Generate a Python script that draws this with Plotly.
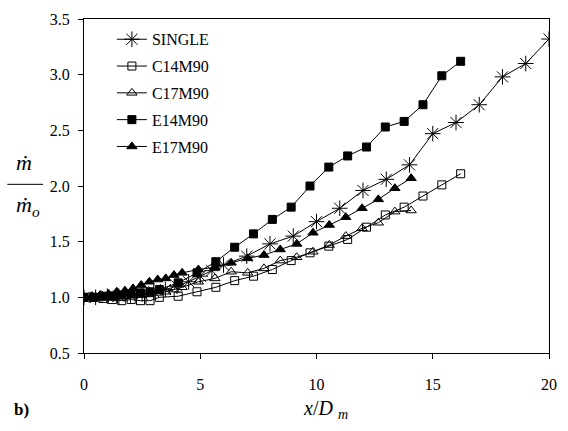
import plotly.graph_objects as go

# ---- data ----
single_x = [0, 0.5, 1, 1.5, 2, 2.5, 3, 3.5, 4, 4.5, 5, 5.5, 6, 7, 8, 9, 10, 11, 12, 13, 14, 15, 16, 17, 18, 19, 20]
single_y = [1.0, 1.0, 1.01, 1.01, 1.02, 1.03, 1.05, 1.07, 1.10, 1.14, 1.19, 1.24, 1.29, 1.37, 1.48, 1.55, 1.68, 1.80, 1.96, 2.06, 2.19, 2.47, 2.57, 2.73, 2.98, 3.10, 3.32]

c14_x = [0, 0.41, 0.81, 1.22, 1.62, 2.03, 2.43, 2.84, 3.24, 4.05, 4.86, 5.67, 6.48, 7.29, 8.1, 8.91, 9.72, 10.53, 11.34, 12.15, 12.96, 13.77, 14.58, 15.39, 16.2]
c14_y = [1.0, 1.0, 0.99, 0.98, 0.97, 0.98, 0.97, 0.97, 1.0, 1.01, 1.05, 1.09, 1.15, 1.19, 1.25, 1.33, 1.40, 1.46, 1.52, 1.63, 1.74, 1.81, 1.91, 2.01, 2.11]

c17_x = [0, 0.35, 0.70, 1.06, 1.41, 1.76, 2.11, 2.46, 2.81, 3.17, 3.52, 3.87, 4.22, 4.92, 5.63, 6.33, 7.04, 7.74, 8.44, 9.15, 9.85, 10.55, 11.26, 11.96, 12.66, 13.37, 14.07]
c17_y = [1.0, 1.0, 1.0, 1.0, 1.01, 1.01, 1.02, 1.02, 1.03, 1.04, 1.05, 1.07, 1.09, 1.14, 1.17, 1.23, 1.22, 1.26, 1.33, 1.36, 1.41, 1.47, 1.55, 1.62, 1.67, 1.77, 1.78]

e14_x = c14_x
e14_y = [1.0, 1.0, 1.01, 1.01, 1.02, 1.03, 1.04, 1.05, 1.07, 1.13, 1.22, 1.32, 1.45, 1.57, 1.70, 1.81, 2.00, 2.17, 2.27, 2.35, 2.53, 2.58, 2.73, 2.99, 3.12]

e17_x = c17_x
e17_y = [1.0, 1.01, 1.02, 1.03, 1.05, 1.06, 1.08, 1.11, 1.14, 1.16, 1.17, 1.20, 1.22, 1.25, 1.27, 1.31, 1.35, 1.38, 1.43, 1.48, 1.58, 1.65, 1.72, 1.80, 1.88, 1.98, 2.07]

x_ticks = [0, 5, 10, 15, 20]
y_ticks = [0.5, 1.0, 1.5, 2.0, 2.5, 3.0, 3.5]

FONT = "Liberation Serif"
fig = go.Figure()

def add(name, x, y, symbol, size, grp):
    fig.add_trace(go.Scatter(
        x=x, y=y, name=name, mode="lines+markers", legendgroup=grp,
        line=dict(color="black", width=1),
        marker=dict(symbol=symbol, size=size, color="black",
                    line=dict(color="black", width=1)),
    ))

add("SINGLE", single_x, single_y, "asterisk-open", 13, "a")
add("C14M90", c14_x, c14_y, "square-open", 8, "b")
add("C17M90", c17_x, c17_y, "triangle-up-open", 9, "c")
add("E14M90", e14_x, e14_y, "square", 8, "d")
add("E17M90", e17_x, e17_y, "triangle-up", 9, "e")

axis_common = dict(showgrid=False, zeroline=False, showline=True, linecolor="black",
                   linewidth=1, mirror=True, ticks="outside", ticklen=5,
                   tickcolor="black", tickfont=dict(family=FONT, size=16, color="black"))

fig.update_xaxes(range=[0, 20], tickvals=x_ticks, ticklabelstandoff=12, **axis_common)
fig.update_yaxes(range=[0.5, 3.5], tickvals=y_ticks, tickformat=".1f",
                 ticklabelstandoff=5, **axis_common)

fig.update_layout(
    width=568, height=431,
    margin=dict(l=84, r=11, t=15, b=78),
    plot_bgcolor="white", paper_bgcolor="white",
    showlegend=True,
    legend=dict(x=0.06, y=0.99, xanchor="left", yanchor="top",
                bgcolor="rgba(0,0,0,0)", itemwidth=30, tracegroupgap=3,
                font=dict(family=FONT, size=16, color="black")),
    annotations=[
        dict(text="<i>x</i>/<i>D</i> <sub><i>m</i></sub>", xref="paper", yref="paper",
             x=0.52, y=-0.17, xanchor="center", yanchor="middle", showarrow=False,
             font=dict(family=FONT, size=20, color="black")),
        dict(text="<b>b)</b>", xref="paper", yref="paper",
             x=-0.155, y=-0.17, xanchor="left", yanchor="middle", showarrow=False,
             font=dict(family=FONT, size=17, color="black")),
        dict(text="<i>m\u0307</i>", xref="paper", yref="paper",
             x=-0.128, y=0.57, xanchor="center", yanchor="middle", showarrow=False,
             font=dict(family=FONT, size=22, color="black")),
        dict(text="<i>m\u0307<sub>o</sub></i>", xref="paper", yref="paper",
             x=-0.12, y=0.44, xanchor="center", yanchor="middle", showarrow=False,
             font=dict(family=FONT, size=22, color="black")),
    ],
    shapes=[dict(type="line", xref="paper", yref="paper", x0=-0.165, x1=-0.088,
                 y0=0.505, y1=0.505, line=dict(color="black", width=1))],
)

fig.write_html("out.html")
